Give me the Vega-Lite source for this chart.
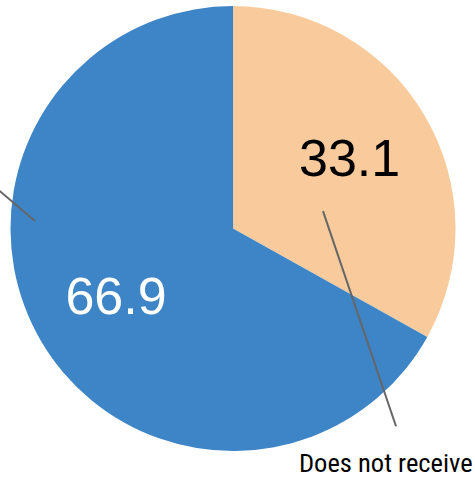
{
  "$schema": "https://vega.github.io/schema/vega-lite/v6.json",
  "width": 475,
  "height": 478,
  "autosize": {"type": "fit", "contains": "padding"},
  "padding": 0,
  "background": "white",
  "config": {"view": {"stroke": null}},
  "datasets": {
    "slices": [
      {"status": "Does not receive", "value": 33.1, "lx": 0.524, "ly": 0.236},
      {"status": "Receives", "value": 66.9, "lx": -0.5258, "ly": -0.3843}
    ],
    "leaders": [
      {"status": "Does not receive", "x": 0.4045, "y": 0.0787, "x2": 0.7326, "y2": -0.8921},
      {"status": "Receives", "x": -0.8899, "y": 0.0337, "x2": -1.137, "y2": 0.245}
    ],
    "names": [
      {"status": "Does not receive", "x": 0.2966, "y": -1.0989}
    ]
  },
  "layer": [
    {
      "data": {"name": "slices"},
      "mark": {"type": "arc", "outerRadius": 222.5},
      "encoding": {
        "theta": {"field": "value", "type": "quantitative", "stack": true},
        "color": {
          "field": "status",
          "type": "nominal",
          "scale": {"domain": ["Does not receive", "Receives"], "range": ["#f9cb9c", "#3d85c6"]},
          "legend": null
        },
        "x": {"datum": 0, "type": "quantitative", "scale": {"domain": [-1.04719, 1.08764], "nice": false, "zero": false}, "axis": null},
        "y": {"datum": 0, "type": "quantitative", "scale": {"domain": [-1.11685, 1.03146], "nice": false, "zero": false}, "axis": null}
      }
    },
    {
      "data": {"name": "leaders"},
      "mark": {"type": "rule", "color": "#666666", "strokeWidth": 2, "clip": true},
      "encoding": {
        "x": {"field": "x", "type": "quantitative", "scale": {"domain": [-1.04719, 1.08764], "nice": false, "zero": false}, "axis": null},
        "y": {"field": "y", "type": "quantitative", "scale": {"domain": [-1.11685, 1.03146], "nice": false, "zero": false}, "axis": null},
        "x2": {"field": "x2"},
        "y2": {"field": "y2"}
      }
    },
    {
      "data": {"name": "slices"},
      "mark": {"type": "text", "font": "Liberation Sans", "fontSize": 52, "align": "center", "baseline": "alphabetic"},
      "encoding": {
        "x": {"field": "lx", "type": "quantitative", "scale": {"domain": [-1.04719, 1.08764], "nice": false, "zero": false}, "axis": null},
        "y": {"field": "ly", "type": "quantitative", "scale": {"domain": [-1.11685, 1.03146], "nice": false, "zero": false}, "axis": null},
        "text": {"field": "value", "type": "quantitative", "format": ".1f"},
        "color": {"condition": {"test": "datum.status === 'Receives'", "value": "white"}, "value": "black"}
      }
    },
    {
      "data": {"name": "names"},
      "mark": {"type": "text", "font": "Roboto Condensed, Liberation Sans Narrow, DejaVu Sans Condensed, Roboto", "fontSize": 26.5, "align": "left", "baseline": "alphabetic", "color": "black"},
      "encoding": {
        "x": {"field": "x", "type": "quantitative", "scale": {"domain": [-1.04719, 1.08764], "nice": false, "zero": false}, "axis": null},
        "y": {"field": "y", "type": "quantitative", "scale": {"domain": [-1.11685, 1.03146], "nice": false, "zero": false}, "axis": null},
        "text": {"field": "status", "type": "nominal"}
      }
    }
  ]
}
